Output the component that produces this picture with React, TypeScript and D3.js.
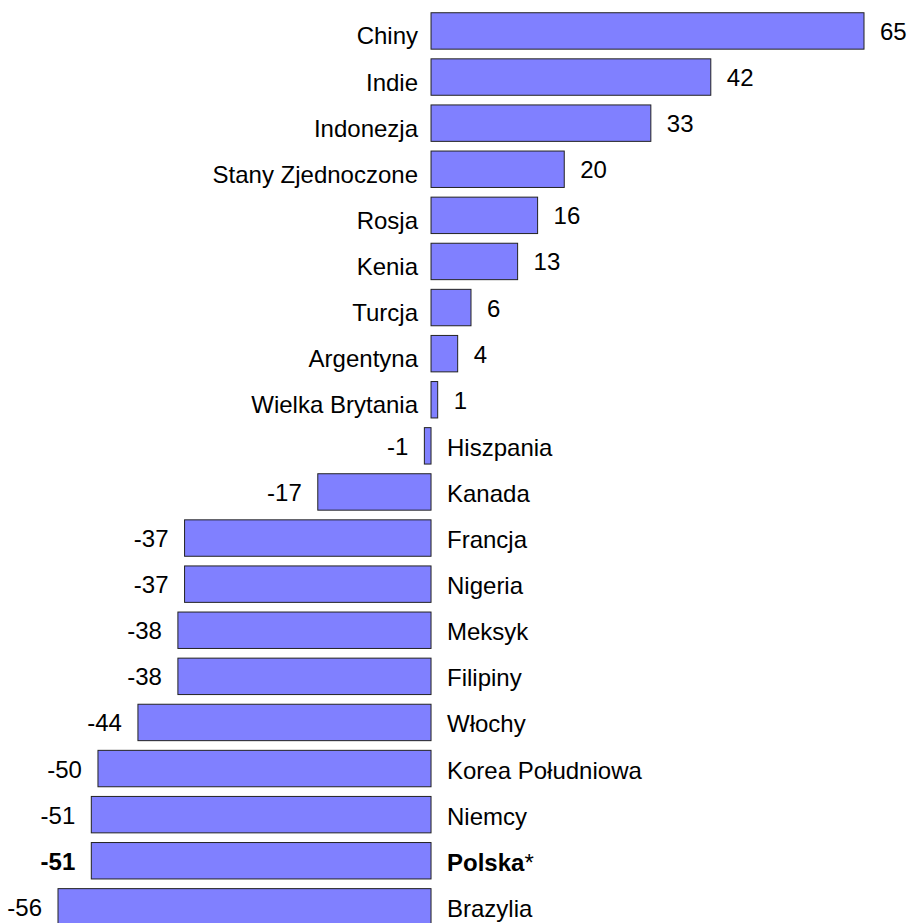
import { useEffect, useRef } from "react";
import * as d3 from "d3";

// countries, top to bottom, and their values
const COUNTRIES = [
  "Chiny",
  "Indie",
  "Indonezja",
  "Stany Zjednoczone",
  "Rosja",
  "Kenia",
  "Turcja",
  "Argentyna",
  "Wielka Brytania",
  "Hiszpania",
  "Kanada",
  "Francja",
  "Nigeria",
  "Meksyk",
  "Filipiny",
  "Włochy",
  "Korea Południowa",
  "Niemcy",
  "Polska",
  "Brazylia",
];

const VALUES = [65, 42, 33, 20, 16, 13, 6, 4, 1, -1, -17, -37, -37, -38, -38, -44, -50, -51, -51, -56];

const HIGHLIGHT = "Polska";

export default function App() {
  const svgRef = useRef<SVGSVGElement>(null);
  const width = 908;
  const height = 923;

  useEffect(() => {
    if (!svgRef.current) return;
    const svg = d3.select(svgRef.current);
    svg.selectAll("*").remove();

    const font = "'Liberation Sans', Arial, sans-serif";
    const fontSize = 24;

    const x = d3.scaleLinear().domain([-56, 65]).range([58, 864]);
    const x0 = x(0);

    const y = d3
      .scaleBand<string>()
      .domain(COUNTRIES)
      .range([7.9, 929.9])
      .paddingInner(0.21)
      .paddingOuter(0.105);

    const rows = COUNTRIES.map((c, i) => ({ name: c, value: VALUES[i] }));

    const g = svg.append("g");

    g.selectAll("rect")
      .data(rows)
      .join("rect")
      .attr("x", (d) => Math.min(x(d.value), x0))
      .attr("y", (d) => y(d.name)!)
      .attr("width", (d) => Math.abs(x(d.value) - x0))
      .attr("height", y.bandwidth())
      .attr("fill", "#8080ff")
      .attr("stroke", "#222")
      .attr("stroke-width", 1);

    // category labels on the opposite side of the bar
    const cat = g
      .selectAll("text.cat")
      .data(rows)
      .join("text")
      .attr("class", "cat")
      .attr("x", (d) => (d.value >= 0 ? x0 - 13 : x0 + 16))
      .attr("y", (d) => y(d.name)! + y.bandwidth() / 2 + (d.value >= 0 ? 5 : 1.5))
      .attr("dominant-baseline", "central")
      .attr("text-anchor", (d) => (d.value >= 0 ? "end" : "start"))
      .attr("font-family", font)
      .attr("font-size", fontSize)
      .attr("fill", "#000");

    cat.each(function (d) {
      const t = d3.select(this);
      if (d.name === HIGHLIGHT) {
        t.append("tspan").attr("font-weight", "bold").text(d.name);
        t.append("tspan").text("*");
      } else {
        t.text(d.name);
      }
    });

    // value labels at bar ends
    g.selectAll("text.val")
      .data(rows)
      .join("text")
      .attr("class", "val")
      .attr("x", (d) => (d.value >= 0 ? x(d.value) + 16 : x(d.value) - 16))
      .attr("y", (d) => y(d.name)! + y.bandwidth() / 2 + 0.5)
      .attr("dominant-baseline", "central")
      .attr("text-anchor", (d) => (d.value >= 0 ? "start" : "end"))
      .attr("font-family", font)
      .attr("font-size", fontSize)
      .attr("font-weight", (d) => (d.name === HIGHLIGHT ? "bold" : "normal"))
      .attr("fill", "#000")
      .text((d) => String(d.value));
  }, []);

  return (
    <svg
      ref={svgRef}
      width={width}
      height={height}
      style={{ position: "absolute", left: 0, top: 0, display: "block", background: "#fff" }}
    />
  );
}
